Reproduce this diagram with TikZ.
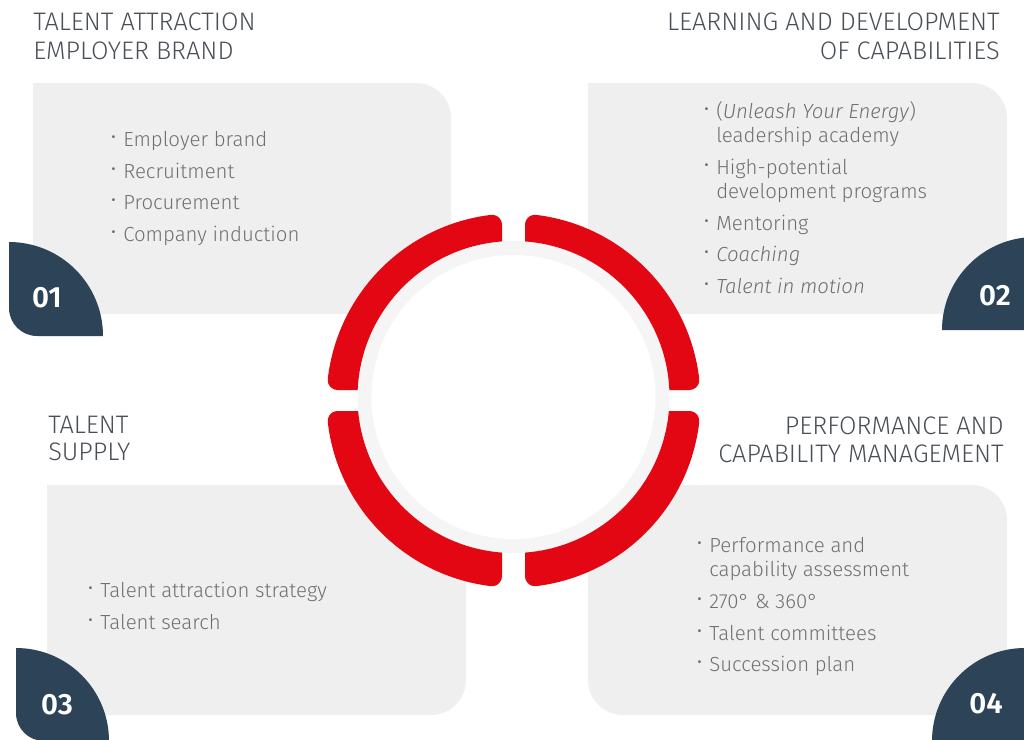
\documentclass[tikz,border=0pt]{standalone}
\usepackage{fontspec}
\setmainfont{Fira Sans Light}[ItalicFont={Fira Sans Light Italic}]
\newfontfamily\numfont{Fira Sans SemiBold}
\newfontfamily\bulfont{Fira Sans}
\definecolor{boxgrey}{HTML}{EFEFEF}
\definecolor{ringgrey}{HTML}{F5F5F5}
\definecolor{ringred}{HTML}{E30613}
\definecolor{leafblue}{HTML}{2D4357}
\definecolor{titlecol}{HTML}{4A4F57}
\definecolor{bodycol}{HTML}{707070}
\newcommand{\bul}{\llap{\raisebox{0.12em}{\bulfont ·}\hspace{0.35em}}}
\begin{document}
\begin{tikzpicture}[x=0.75pt,y=-0.75pt,
  boxfill/.style={fill=boxgrey},
  leaf/.style={fill=leafblue},
  seg/.style={fill=ringred},
  title/.style={inner sep=0pt,text=titlecol,font=\fontsize{19}{22}\selectfont},
  item/.style={inner sep=0pt,anchor=base west,text=bodycol,font=\fontsize{15.3}{18}\selectfont},
  num/.style={inner sep=0pt,anchor=base,text=white,font=\numfont\fontsize{22}{24}\selectfont}]
\useasboundingbox (0,0) rectangle (1024,739);
\clip (0,0) rectangle (1024,739);
% boxes
\fill[boxfill] (33,83) -- (416,83) arc[start angle=270,end angle=360,radius=35] -- (451,314) -- (33,314) -- cycle;
\fill[boxfill] (588,83) -- (972,83) arc[start angle=270,end angle=360,radius=35] -- (1007,314) -- (588,314) -- cycle;
\fill[boxfill] (47,485) -- (466,485) -- (466,680) arc[start angle=0,end angle=90,radius=35] -- (47,715) -- cycle;
\fill[boxfill] (588,485) -- (972,485) arc[start angle=270,end angle=360,radius=35] -- (1007,715) -- (623,715) arc[start angle=90,end angle=180,radius=35] -- cycle;
% leaves
\fill[leaf] (9,242) arc[start angle=270,end angle=360,radius=94] -- (37,336) arc[start angle=90,end angle=180,radius=28] -- cycle;
\fill[leaf] (942,330) arc[start angle=180,end angle=270,radius=93] -- (1040,237) -- (1040,330) -- cycle;
\fill[leaf] (16,648) arc[start angle=270,end angle=360,radius=93] -- (44,741) arc[start angle=90,end angle=180,radius=28] -- cycle;
\fill[leaf] (932,741) arc[start angle=180,end angle=270,radius=93] -- (1030,648) -- (1030,745) -- (932,745) -- cycle;
% ring
\fill[ringgrey] (513.5,397) circle[radius=156];
\fill[white] (513.5,397) circle[radius=142];
\foreach \s in {0,1}{
\begin{scope}[shift={(1027*\s,0)},xscale=1-2*\s]
\fill[seg] (525,241.42) -- (525,224.81) arc[start angle=180,end angle=276.977,radius=10]
  arc[start angle=276.977,end angle=353.349,radius=187]
  arc[start angle=353.349,end angle=450,radius=10]
  -- (669.343,390) arc[start angle=357.428,end angle=274.227,radius=156] -- cycle;
\fill[seg] (668.871,411) -- (689.31,411) arc[start angle=270,end angle=366.651,radius=10]
  arc[start angle=6.651,end angle=83.023,radius=187]
  arc[start angle=83.023,end angle=180,radius=10]
  -- (525,552.576) arc[start angle=85.773,end angle=5.149,radius=156] -- cycle;
\end{scope}}
% numbers
\node[num] (n1) at (47,307) {01};
\node[num] (n2) at (995,305) {02};
\node[num] (n3) at (57,714) {03};
\node[num] (n4) at (986,713) {04};
% titles
\node[title,anchor=base west] (t1a) at (33,30) {TALENT ATTRACTION};
\node[title,anchor=base west] (t1b) at (33,59) {EMPLOYER BRAND};
\node[title,anchor=base east] (t2a) at (1000,30) {LEARNING AND DEVELOPMENT};
\node[title,anchor=base east] (t2b) at (1000,59) {OF CAPABILITIES};
\node[title,anchor=base west] (t3a) at (48,433) {TALENT};
\node[title,anchor=base west] (t3b) at (48,460) {SUPPLY};
\node[title,anchor=base east] (t4a) at (1004,434) {PERFORMANCE AND};
\node[title,anchor=base east] (t4b) at (1004,462) {CAPABILITY MANAGEMENT};
% box 1 items
\node[item] (a1) at (123,146) {\bul Employer brand};
\node[item] (a2) at (123,178) {\bul Recruitment};
\node[item] (a3) at (123,209) {\bul Procurement};
\node[item] (a4) at (123,241) {\bul Company induction};
% box 2 items
\node[item] (b1) at (716,118) {\bul(\textit{Unleash Your Energy})};
\node[item] (b1b) at (716,142) {leadership academy};
\node[item] (b2) at (716,174) {\bul High-potential};
\node[item] (b2b) at (716,198) {development programs};
\node[item] (b3) at (716,230) {\bul Mentoring};
\node[item] (b4) at (716,261) {\bul\textit{Coaching}};
\node[item] (b5) at (716,293) {\bul\textit{Talent in motion}};
% box 3 items
\node[item] (c1) at (100,597) {\bul Talent attraction strategy};
\node[item] (c2) at (100,629) {\bul Talent search};
% box 4 items
\node[item] (d1) at (709,552) {\bul Performance and};
\node[item] (d1b) at (709,576) {capability assessment};
\node[item] (d2) at (709,608) {\bul 270° \& 360°};
\node[item] (d3) at (709,640) {\bul Talent committees};
\node[item] (d4) at (709,671) {\bul Succession plan};
\end{tikzpicture}
\end{document}
